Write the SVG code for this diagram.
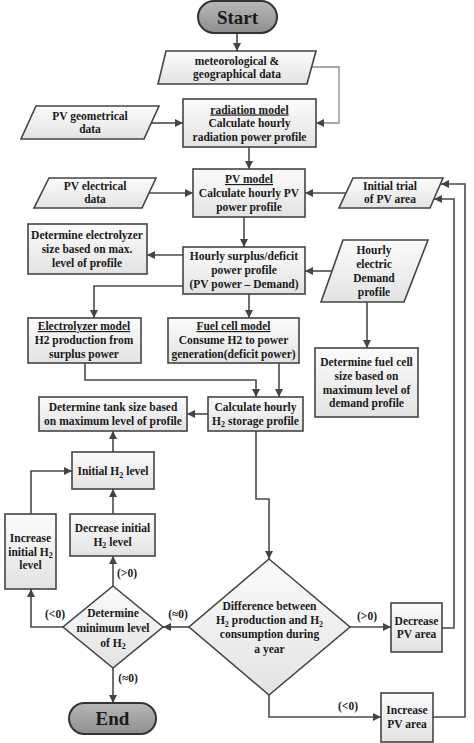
<svg xmlns="http://www.w3.org/2000/svg" width="474" height="743" viewBox="0 0 474 743">
<defs>
<linearGradient id="gBox" x1="0" y1="0" x2="0" y2="1">
<stop offset="0" stop-color="#fbfbfb"/>
<stop offset="1" stop-color="#e3e3e3"/>
</linearGradient>
<linearGradient id="gTerm" x1="0" y1="0" x2="0" y2="1">
<stop offset="0" stop-color="#b8b8b8"/>
<stop offset="1" stop-color="#8e8e8e"/>
</linearGradient>
<marker id="arr" markerUnits="userSpaceOnUse" markerWidth="9" markerHeight="8" refX="8" refY="4" orient="auto">
<path d="M0,0 L8,4 L0,8 z" fill="#444"/>
</marker>
<style>
.box{fill:url(#gBox);stroke:#444;stroke-width:1.6}
.term{fill:url(#gTerm);stroke:#333;stroke-width:2}
.t{font-family:"Liberation Serif","Times New Roman",serif;font-weight:bold;font-size:11.5px;fill:#1a1a1a;text-anchor:middle}
.big{font-size:19px}
.lbl{font-size:11.5px}
.u{text-decoration:underline}
.s{font-size:8px}
.c{fill:none;stroke:#4a4a4a;stroke-width:1.6;marker-end:url(#arr)}
.cl{stroke:#8a8a8a;stroke-width:1.3}
</style>
</defs>

<g id="connectors">
<path class="c" d="M237,33 V51"/>
<path class="c cl" d="M312,67 H339 V123 H316"/>
<path class="c" d="M151,123 H183"/>
<path class="c" d="M249,147 V169"/>
<path class="c" d="M149,193 H193"/>
<path class="c" d="M346,193 H305"/>
<path class="c" d="M244,217 V247"/>
<path class="c" d="M183,255 H147"/>
<path class="c" d="M332,271 H305"/>
<path class="c" d="M367,302 V348"/>
<path class="c" d="M183,286 H94 V318"/>
<path class="c" d="M249,294 V318"/>
<path class="c" d="M85,363 V380 H256 V397"/>
<path class="c" d="M279,363 V397"/>
<path class="c" d="M208,414 H187"/>
<path class="c" d="M113,452 V431"/>
<path class="c" d="M256,431 V499 H269 V559"/>
<path class="c" d="M31,514 V471 H72"/>
<path class="c" d="M113,514 V489"/>
<path class="c" d="M113,586 V556"/>
<path class="c" d="M63,627 H31 V589"/>
<path class="c" d="M189,627 H163"/>
<path class="c" d="M113,668 V703"/>
<path class="c" d="M350,627 H391"/>
<path class="c" d="M269,695 V717 H381"/>
<path class="c" d="M442,628 H454 V199 H434"/>
<path class="c" d="M433,717 H465 V184 H441"/>
<text class="t lbl" x="127" y="577">(&gt;0)</text>
<text class="t lbl" x="55" y="618">(&lt;0)</text>
<text class="t lbl" x="178" y="618">(≈0)</text>
<text class="t lbl" x="128" y="682">(≈0)</text>
<text class="t lbl" x="367" y="620">(&gt;0)</text>
<text class="t lbl" x="348" y="710">(&lt;0)</text>
</g>

<g id="start">
<rect class="term" x="198" y="1" width="79" height="32" rx="16"/>
<text class="t big" x="237.5" y="24">Start</text>
</g>

<g id="meteo">
<path class="box" d="M166,51 H316 L307,84 H158 z"/>
<text class="t" x="237" y="65">meteorological &amp;</text>
<text class="t" x="237" y="78">geographical data</text>
</g>

<g id="radiation">
<rect class="box" x="183" y="99" width="133" height="48"/>
<text class="t u" x="249.5" y="113.5">radiation model</text>
<text class="t" x="249.5" y="127">Calculate hourly</text>
<text class="t" x="249.5" y="141">radiation power profile</text>
</g>

<g id="pvgeom">
<path class="box" d="M36,106 H159 L144,139 H21 z"/>
<text class="t" x="90" y="120">PV geometrical</text>
<text class="t" x="90" y="133">data</text>
</g>

<g id="pvmodel">
<rect class="box" x="193" y="169" width="112" height="48"/>
<text class="t u" x="249" y="183">PV model</text>
<text class="t" x="249" y="197">Calculate hourly PV</text>
<text class="t" x="249" y="211">power profile</text>
</g>

<g id="pvelec">
<path class="box" d="M49,178 H156 L142,208 H34 z"/>
<text class="t" x="95" y="190">PV electrical</text>
<text class="t" x="95" y="203">data</text>
</g>

<g id="initialtrial">
<path class="box" d="M353,178 H443 L430,208 H339 z"/>
<text class="t" x="390" y="190">Initial trial</text>
<text class="t" x="390" y="203">of PV area</text>
</g>

<g id="electrolyzersize">
<rect class="box" x="28" y="224" width="119" height="50"/>
<text class="t" x="87" y="239">Determine electrolyzer</text>
<text class="t" x="87" y="252.5">size based on max.</text>
<text class="t" x="87" y="267">level of profile</text>
</g>

<g id="surplus">
<rect class="box" x="183" y="247" width="122" height="47"/>
<text class="t" x="244" y="260">Hourly surplus/deficit</text>
<text class="t" x="244" y="274">power profile</text>
<text class="t" x="244" y="288">(PV power – Demand)</text>
</g>

<g id="demand">
<path class="box" d="M343,240 H428 L404,302 H321 z"/>
<text class="t" x="374" y="254">Hourly</text>
<text class="t" x="374" y="268">electric</text>
<text class="t" x="374" y="281.5">Demand</text>
<text class="t" x="374" y="296">profile</text>
</g>

<g id="electrolyzermodel">
<rect class="box" x="28" y="318" width="113" height="45"/>
<text class="t u" x="84" y="330">Electrolyzer model</text>
<text class="t" x="84" y="344">H2 production from</text>
<text class="t" x="84" y="358">surplus power</text>
</g>

<g id="fuelcellmodel">
<rect class="box" x="168" y="318" width="131" height="45"/>
<text class="t u" x="233.5" y="330">Fuel cell model</text>
<text class="t" x="233.5" y="344">Consume H2 to power</text>
<text class="t" x="233.5" y="358">generation(deficit power)</text>
</g>

<g id="fuelcellsize">
<rect class="box" x="315" y="348" width="103" height="69"/>
<text class="t" x="366.5" y="366">Determine fuel cell</text>
<text class="t" x="366.5" y="380">size based on</text>
<text class="t" x="366.5" y="393.5">maximum level of</text>
<text class="t" x="366.5" y="407">demand profile</text>
</g>

<g id="tanksize">
<rect class="box" x="39" y="397" width="148" height="34"/>
<text class="t" x="113" y="411">Determine tank size based</text>
<text class="t" x="113" y="424.5">on maximum level of profile</text>
</g>

<g id="storage">
<rect class="box" x="208" y="397" width="95" height="34"/>
<text class="t" x="255.5" y="411">Calculate hourly</text>
<text class="t" x="255.5" y="424.5">H<tspan class="s" dy="2.5">2</tspan><tspan dy="-2.5"> storage profile</tspan></text>
</g>

<g id="initialh2">
<rect class="box" x="72" y="452" width="82" height="37"/>
<text class="t" x="113" y="475">Initial H<tspan class="s" dy="2.5">2</tspan><tspan dy="-2.5"> level</tspan></text>
</g>

<g id="increaseh2">
<rect class="box" x="5" y="514" width="51" height="75"/>
<text class="t" x="30.5" y="542">Increase</text>
<text class="t" x="30.5" y="555.5">initial H<tspan class="s" dy="2.5">2</tspan></text>
<text class="t" x="30.5" y="569">level</text>
</g>

<g id="decreaseh2">
<rect class="box" x="70" y="514" width="85" height="42"/>
<text class="t" x="112.5" y="532">Decrease initial</text>
<text class="t" x="112.5" y="545.5">H<tspan class="s" dy="2.5">2</tspan><tspan dy="-2.5"> level</tspan></text>
</g>

<g id="mindiamond">
<path class="box" d="M113,586 L163,627 L113,668 L63,627 z"/>
<text class="t" x="113" y="617">Determine</text>
<text class="t" x="113" y="631.5">minimum level</text>
<text class="t" x="113" y="646.5">of H<tspan class="s" dy="2.5">2</tspan></text>
</g>

<g id="bigdiamond">
<path class="box" d="M269,559 L350,627 L269,695 L189,627 z"/>
<text class="t" x="269.5" y="610">Difference between</text>
<text class="t" x="269.5" y="624">H<tspan class="s" dy="2.5">2</tspan><tspan dy="-2.5"> production and H</tspan><tspan class="s" dy="2.5">2</tspan></text>
<text class="t" x="269.5" y="638">consumption during</text>
<text class="t" x="269.5" y="653">a year</text>
</g>

<g id="decreasepv">
<rect class="box" x="391" y="603" width="51" height="49"/>
<text class="t" x="416.5" y="625">Decrease</text>
<text class="t" x="416.5" y="638">PV area</text>
</g>

<g id="increasepv">
<rect class="box" x="381" y="693" width="52" height="49"/>
<text class="t" x="407" y="714">Increase</text>
<text class="t" x="407" y="728">PV area</text>
</g>

<g id="end">
<rect class="term" x="69" y="703" width="87" height="31" rx="15.5"/>
<text class="t big" x="112.5" y="725">End</text>
</g>
</svg>
